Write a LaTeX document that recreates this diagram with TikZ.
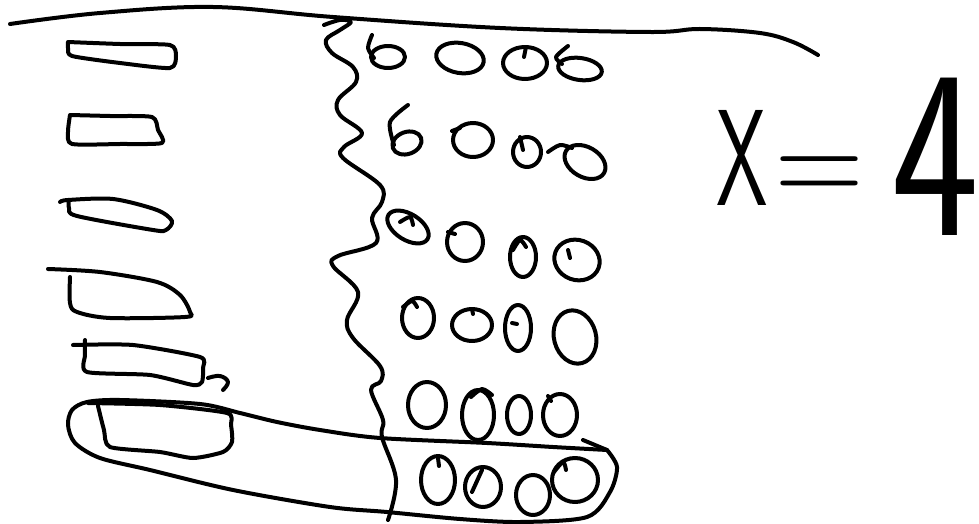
\documentclass[tikz,border=0pt]{standalone}
\usetikzlibrary{calc}

\tikzset{
  ink/.style={line width=4pt, line cap=round, line join=round},
  blob/.style={ink},
}

\begin{document}
\begin{tikzpicture}[x=1pt, y=-1pt]

% Canvas (pixel coordinates, y pointing down)
\useasboundingbox (0,0) rectangle (979,524);
\clip (0,0) rectangle (979,524);

% Top line
\draw[ink] plot[smooth, tension=0.6] coordinates {(10,24) (100,13) (213,7) (333,17) (500,28) (650,32) (700,29) (760,33) (793,42) (818,55)};

% Left column of bars
\draw[ink] plot[smooth, tension=0.4] coordinates {(68,42) (120,44) (170,45) (176,56) (170,68) (120,63) (72,56) (68,48) (68,42)};
\draw[ink] plot[smooth, tension=0.4] coordinates {(70,115) (110,116) (152,117) (158,130) (162,143) (120,144) (72,144) (68,132) (70,115)};
\draw[ink] plot[smooth, tension=0.5] coordinates {(60,202) (68,200) (113,199) (157,210) (172,221) (166,230) (153,230) (77,216) (69,208) (69,200)};
\draw[ink] plot[smooth, tension=0.5] coordinates {(48,269) (100,272) (157,282) (180,295) (190,312) (185,317) (110,318) (77,312) (70,303) (70,277)};
\draw[ink] plot[smooth, tension=0.4] coordinates {(73,345) (133,345) (200,357) (203,368) (202,382) (193,385) (150,375) (87,372) (85,355) (85,340)};
\draw[ink] plot[smooth, tension=0.7] coordinates {(208,378) (220,376) (228,382) (223,390)};
\draw[ink] plot[smooth, tension=0.4] coordinates {(88,403) (160,405) (227,413) (231,425) (232,442) (223,452) (193,458) (160,452) (110,447) (104,430) (98,406)};

% Wavy divider
\draw[ink] plot[smooth, tension=0.6] coordinates {(324,25) (340,20) (351,22) (340,30) (326,40) (332,53) (353,67) (356,82) (338,100) (340,115) (362,133) (344,147) (343,158) (380,185) (382,202) (372,218) (376,243) (338,256) (333,266) (358,292) (347,320) (353,338) (380,366) (381,381) (371,390) (383,420) (382,437) (396,480) (388,520)};

% Big loop round the last row
\draw[ink] plot[smooth, tension=0.5] coordinates {(607,450) (553,447) (487,443) (380,438) (320,430) (277,422) (240,413) (200,404) (120,400) (87,402) (72,410) (68,425) (75,443) (100,458) (150,470) (233,490) (330,507) (387,512) (460,519) (520,522) (587,517) (610,492) (617,467) (607,450)};
\draw[ink] (583,440) -- (607,450);

% Counters: centre x, centre y, x radius, y radius, rotation
\foreach \cx/\cy/\rx/\ry/\rot in {
  388/57/17/11/0, 460/58/24/15/-10, 525/63/22/16/0, 580/69/22/11/-8,
  407/143/15/11/20, 473/140/20/17/0, 527/152/14/15/0, 585/162/22/15/-30,
  408/227/23/13/-32, 465/242/18/19/0, 523/257/13/20/0, 577/260/23/20/-20,
  418/318/16/20/0, 472/325/20/16/0, 518/328/13/23/0, 575/337/21/27/15,
  427/405/19/23/0, 478/415/16/25/0, 519/415/12/19/0, 560/415/17/21/0,
  438/480/17/24/0, 483/487/18/20/0, 533/495/17/20/0, 575/480/23/22/0} {
  \draw[blob, rotate around={\rot:(\cx,\cy)}] (\cx,\cy) ellipse [x radius=\rx, y radius=\ry];
}

% Tails and ticks on the counters
\draw[ink] plot[smooth] coordinates {(372,35) (368,48) (374,58)};
\draw[ink] (526,47) -- (524,57);
\draw[ink] plot[smooth] coordinates {(568,46) (556,57) (562,64)};
\draw[ink] plot[smooth] coordinates {(408,105) (390,122) (394,145)};
\draw[ink] (452,131) -- (460,128);
\draw[ink] (520,137) -- (523,150);
\draw[ink] plot[smooth] coordinates {(548,152) (560,145) (572,148)};
\draw[ink] plot[smooth] coordinates {(400,222) (410,217) (413,225)};
\draw[ink] (448,232) -- (455,234);
\draw[ink] plot[smooth] coordinates {(513,250) (520,240) (526,247)};
\draw[ink] (568,250) -- (570,258);
\draw[ink] plot[smooth] coordinates {(403,307) (412,301) (417,307)};
\draw[ink] (472,309) -- (473,314);
\draw[ink] (512,323) -- (517,324);
\draw[ink] plot[smooth] coordinates {(471,397) (482,389) (492,395)};
\draw[ink] (548,396) -- (551,401);
\draw[ink] (438,458) -- (439,466);
\draw[ink] (482,470) -- (472,492);
\draw[ink] plot[smooth] coordinates {(554,472) (563,462) (566,470)};

% Result
\node (result) [anchor=base west, xscale=0.6, inner sep=0pt] at (716,205)
  {\sffamily\fontsize{137}{137}\selectfont X\hspace{12pt}\scalebox{1.5}[1]{=}\hspace{45pt}\raisebox{-30pt}{\fontsize{240}{240}\selectfont\scalebox{1.3}[1]{4}}};

\end{tikzpicture}
\end{document}
